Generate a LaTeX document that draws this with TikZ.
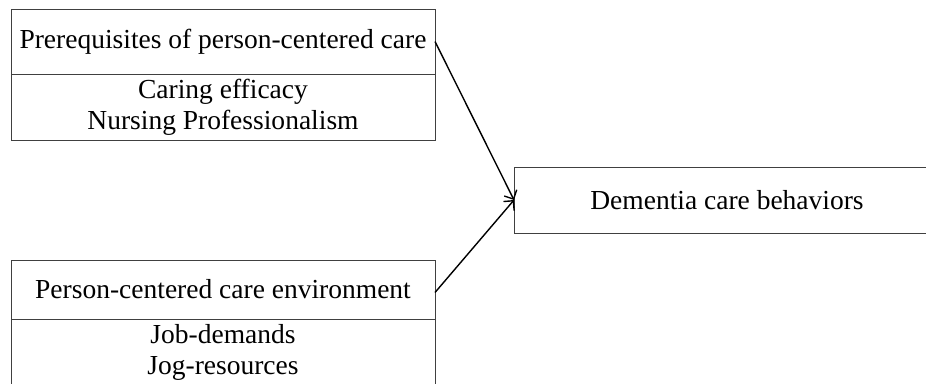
\documentclass[tikz,border=0pt]{standalone}
\usepackage{fontspec}
\setmainfont{Liberation Serif}
\usetikzlibrary{arrows.meta}
\begin{document}
\begin{tikzpicture}[x=1pt,y=-1pt,
  box/.style={draw=black!75,line width=0.9pt,rectangle,inner sep=0pt,outer sep=0pt,
    align=center,font=\fontsize{27.5}{31}\selectfont},
  conn/.style={line width=1.4pt,-{Straight Barb[length=7pt,width=14pt,line width=1.4pt]}}]
\useasboundingbox (0,0) rectangle (926,383);
\node[box,minimum width=424pt,minimum height=65pt] (prereq) at (223,41.5) {Prerequisites of person-centered care};
\node[box,minimum width=424pt,minimum height=66pt] (prereqlist) at (223,107) {Caring efficacy\\Nursing Professionalism};
\node[box,minimum width=424pt,minimum height=59pt] (env) at (223,289.5) {Person-centered care environment};
\node[box,minimum width=424pt,minimum height=66pt,anchor=north] (envlist) at (223,319) {};
\node (envlisttext) at (223,352.5) [font=\fontsize{27.5}{31}\selectfont,align=center,inner sep=0pt] {Job-demands\\Jog-resources};
\node[box,minimum width=416pt,minimum height=66pt,anchor=west] (dem) at (514,200) {\hspace*{10pt}Dementia care behaviors};
\draw[conn] (prereq.east) -- (dem.west);
\draw[conn] ([yshift=-3pt]env.east) -- (dem.west);
\end{tikzpicture}
\end{document}
